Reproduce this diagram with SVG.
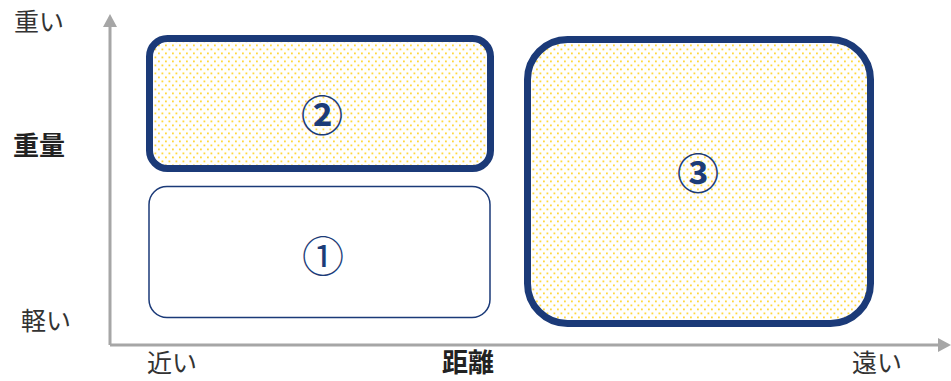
<svg xmlns="http://www.w3.org/2000/svg" width="951" height="381" viewBox="0 0 951 381">
<style>
.lbl{font-family:"Noto Sans CJK JP","Noto Sans",sans-serif;font-size:25px;fill:#333;}
.b{font-weight:bold;fill:#222;font-size:26px;}
.num{font-family:"Noto Sans CJK JP","Noto Sans",sans-serif;font-size:42px;fill:#1c3c78;text-anchor:middle;dominant-baseline:central;}
.axis{stroke:#a6a6a6;stroke-width:3;fill:none;}
.thick{fill:url(#dots);stroke:#1b3a78;stroke-width:7;}
</style>
<defs>
<pattern id="dots" width="7" height="8" patternUnits="userSpaceOnUse">
<rect width="7" height="8" fill="#fff"/>
<rect x="0.5" y="0.5" width="1.8" height="1.8" fill="#ffd83c"/>
<rect x="4" y="4.5" width="1.8" height="1.8" fill="#ffd83c"/>
</pattern>
</defs>
<g id="connectors">
<path class="axis" d="M110,345 L110,26"/>
<polygon points="110,14 103,27 117,27" fill="#a6a6a6"/>
<path class="axis" d="M110,345 L939,345"/>
<polygon points="951,345 938,338 938,352" fill="#a6a6a6"/>
</g>
<g id="labels">
<text class="lbl" x="14" y="31">重い</text>
<text class="lbl b" x="13" y="155">重量</text>
<text class="lbl" x="21" y="330">軽い</text>
<text class="lbl" x="147" y="372">近い</text>
<text class="lbl b" x="442" y="372">距離</text>
<text class="lbl" x="852" y="372">遠い</text>
</g>
<g id="node2">
<rect class="thick" x="149.5" y="38.5" width="341" height="130" rx="18"/>
<text class="num" x="322" y="112" font-weight="bold">②</text>
</g>
<g id="node1">
<rect x="149" y="186.5" width="341" height="131" rx="18" fill="#fff" stroke="#1b3a78" stroke-width="1.5"/>
<text class="num" x="323" y="253">①</text>
</g>
<g id="node3">
<rect class="thick" x="527.5" y="39.5" width="343" height="284" rx="40"/>
<text class="num" x="698" y="170" font-weight="bold">③</text>
</g>
</svg>
